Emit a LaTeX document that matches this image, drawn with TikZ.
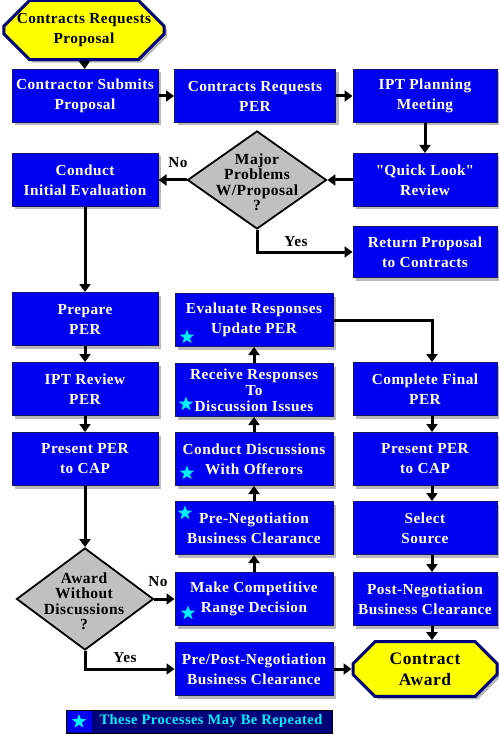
\documentclass[tikz,border=0pt]{standalone}
\usepackage{fontspec}
\setmainfont{Liberation Serif}[LetterSpace=3]
\newfontfamily\plainserif{Liberation Serif}[LetterSpace=3]
\usetikzlibrary{positioning,arrows.meta,shapes.geometric,shapes.misc,shadows}
\definecolor{cBox}{RGB}{0,0,240}
\definecolor{cEdge}{RGB}{20,20,110}
\definecolor{cNavy}{RGB}{0,0,120}
\definecolor{cDia}{RGB}{192,192,192}
\definecolor{cTerm}{RGB}{255,255,0}
\definecolor{cStar}{RGB}{0,240,255}
\newcommand{\boxfont}{\fontsize{15.3}{20}\selectfont\bfseries}
\newcommand{\tightfont}{\fontsize{15.3}{16}\selectfont\bfseries}
\newcommand{\diafont}{\fontsize{15.5}{15.5}\selectfont\bfseries}
\newcommand{\bigfont}{\fontsize{17.5}{21}\selectfont\bfseries}
\newcommand{\sq}{{\plainserif\bfseries"}}

\begin{document}
\begin{tikzpicture}[x=1pt,y=-1pt,
   proc/.style={draw=cEdge,line width=1pt,fill=cBox,text=white,font=\boxfont,
     align=center,minimum height=53pt,inner sep=1pt,
     drop shadow={shadow xshift=3pt,shadow yshift=-3pt,opacity=.5,fill=black!55}},
   term/.style={chamfered rectangle,chamfered rectangle xsep=13pt,
     chamfered rectangle ysep=13pt,draw=cNavy,line width=3pt,fill=cTerm,
     align=center,inner sep=0pt,
     drop shadow={shadow xshift=3pt,shadow yshift=-3pt,opacity=.5,fill=black!55}},
   decide/.style={diamond,draw=black,line width=1.8pt,fill=cDia,inner sep=0pt},
   dtext/.style={font=\diafont,align=center},
   flow/.style={line width=3pt,-{Triangle[length=8pt,width=11pt]}},
   lbl/.style={font=\boxfont},
   again/.style={star,star points=5,star point ratio=2.4,fill=cStar,
     minimum size=15pt,inner sep=0pt}]
 \useasboundingbox (0,0) rectangle (498,735);
 % top row
 \node[term,font=\boxfont,minimum width=148pt,minimum height=53pt] (start) at (84,30)
   {Contracts Requests\\Proposal};
 \node[proc,minimum width=146pt] (submit) at (85,96) {Contractor Submits\\Proposal};
 \node[proc,minimum width=161pt] (reqper) at (255,96) {Contracts Requests\\PER};
 \node[proc,minimum width=144pt] (plan) at (425,96) {IPT Planning\\Meeting};
 % first decision
 \node[proc,minimum width=146pt] (initial) at (85,180) {Conduct\\Initial Evaluation};
 \node[proc,minimum width=144pt] (quick) at (425,180) {\sq Quick Look\sq\\Review};
 \node[decide,minimum width=139pt,minimum height=98pt] (major) at (257,180) {};
 \node[dtext] (majorTxt) at (257,182) {Major\\Problems\\W/Proposal\\?};
 \node[proc,minimum width=144pt,minimum height=51pt] (return) at (425,252)
   {Return Proposal\\to Contracts};
 % left column
 \node[proc,minimum width=146pt] (prepare) at (85,319) {Prepare\\PER};
 \node[proc,minimum width=146pt] (review) at (85,389) {IPT Review\\PER};
 \node[proc,minimum width=146pt] (presL) at (85,459) {Present PER\\to CAP};
 \node[decide,minimum width=137pt,minimum height=102pt] (awardQ) at (85,599) {};
 \node[dtext] (awardTxt) at (84,601) {Award\\Without\\Discussions\\?};
 % middle column
 \node[proc,minimum width=158pt] (evaluate) at (254,320) {Evaluate Responses\\Update PER};
 \node[proc,minimum width=158pt,font=\tightfont] (receive) at (254,390)
   {Receive Responses\\To\\Discussion Issues};
 \node[proc,minimum width=158pt] (discuss) at (254,459) {Conduct Discussions\\With Offerors};
 \node[proc,minimum width=158pt] (prenego) at (254,528) {Pre-Negotiation\\Business Clearance};
 \node[proc,minimum width=158pt] (compete) at (254,599) {Make Competitive\\Range Decision};
 \node[proc,minimum width=158pt] (prepost) at (254,669)
   {Pre/Post-Negotiation\\Business Clearance};
 % right column
 \node[proc,minimum width=144pt] (final) at (425,389) {Complete Final\\PER};
 \node[proc,minimum width=144pt] (presR) at (425,459) {Present PER\\to CAP};
 \node[proc,minimum width=144pt] (select) at (425,528) {Select\\Source};
 \node[proc,minimum width=144pt] (postneg) at (425,599) {Post-Negotiation\\Business Clearance};
 \node[term,font=\bigfont,minimum width=144pt,minimum height=50pt,
   chamfered rectangle xsep=11pt,chamfered rectangle ysep=11pt] (award) at (425,669)
   {Contract\\Award};
 % repeat marks
 \node[again] (s1) at (187,337) {};
 \node[again] (s2) at (186,404) {};
 \node[again] (s3) at (187,473) {};
 \node[again] (s4) at (185,513) {};
 \node[again] (s5) at (188,613) {};
 % yes / no
 \node[lbl] (noA) at (178,163) {No};
 \node[lbl] (yesA) at (296,242) {Yes};
 \node[lbl] (noB) at (158,582) {No};
 \node[lbl] (yesB) at (125,658) {Yes};
 % connectors
 \draw[flow] (start) -- (submit);
 \draw[flow] (submit) -- (reqper);
 \draw[flow] (reqper) -- (plan);
 \draw[flow] (plan) -- (quick);
 \draw[flow] (quick.west) -- (major.east);
 \draw[flow] (major.west) -- (initial.east);
 \draw[flow] (major.south) |- (return.west);
 \draw[flow] (initial) -- (prepare);
 \foreach \a/\b in {prepare/review,review/presL,presL/awardQ}
   \draw[flow] (\a) -- (\b);
 \draw[flow] (awardQ.east) -- (compete.west);
 \draw[flow] (awardQ.south) |- (prepost.west);
 \foreach \a/\b in {compete/prenego,prenego/discuss,discuss/receive,receive/evaluate}
   \draw[flow] (\a) -- (\b);
 \draw[flow] (evaluate.east) -| ([xshift=7pt]final.north);
 \foreach \a/\b in {final/presR,presR/select,select/postneg,postneg/award}
   \draw[flow] ([xshift=7pt]\a.south) -- ([xshift=7pt]\b.north);
 \draw[flow] (prepost.east) -- (award.west);
 % key
 \node[draw=black,line width=1pt,fill=cNavy,minimum width=266pt,minimum height=23pt,
   inner sep=0pt] (key) at (199,721.5) {};
 \node[fill=cBox,minimum width=25pt,minimum height=21pt,inner sep=0pt] (keyBg) at (79,721.5) {};
 \node[again] (keyStar) at (keyBg) {};
 \node[text=cStar,font={\fontsize{14.5}{16}\selectfont\bfseries}] (keyTxt) at (211,721.5)
   {These Processes May Be Repeated};
\end{tikzpicture}
\end{document}
